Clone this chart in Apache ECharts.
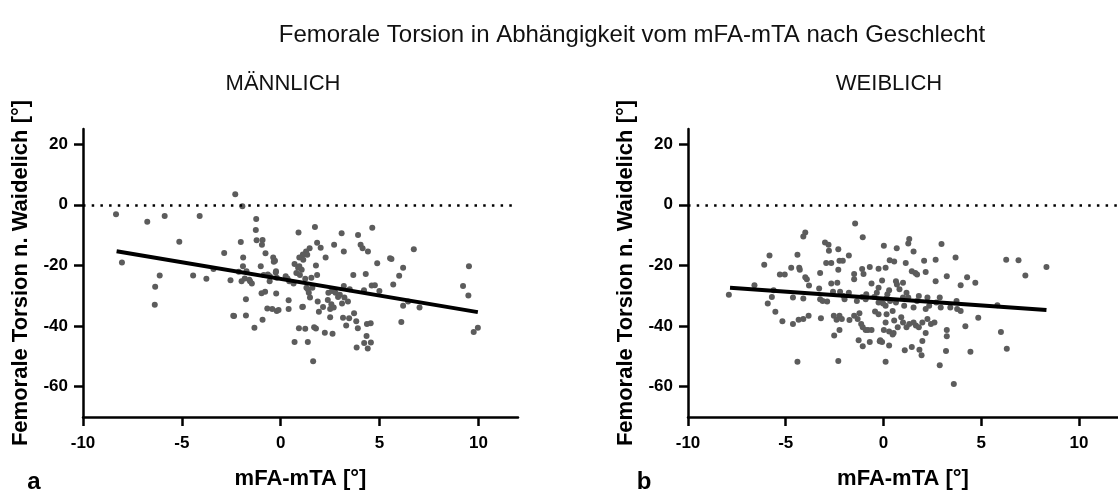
<!DOCTYPE html>
<html>
<head>
<meta charset="utf-8">
<script src="https://cdn.jsdelivr.net/npm/echarts@6/dist/echarts.min.js"></script>
<style>
html,body{margin:0;padding:0;background:#fff;}
#chart{width:1118px;height:495px;}
</style>
</head>
<body>
<div id="chart"></div>
<script>
// ---- Data ----
const xTicks = [-10, -5, 0, 5, 10];
const yTicks = [-60, -40, -20, 0, 20];

const maleX = [-2.3,-1.94,-8.33,-6.75,-5.87,-4.1,-5.13,-1.24,-1.26,-2.02,-1.22,-0.92,-0.95,-0.77,-2.86,-1.9,-0.38,0.9,1.73,1.84,2.02,1.46,1.28,1.12,0.94,2.27,2.7,3.08,3.19,3.91,4.04,4.14,4.41,4.63,5.53,6.73,
-8.03,-6.12,-6.35,-6.37,-4.43,-3.76,-3.4,-2.54,-2.36,-1.91,-2.12,-1.82,-1.73,-1.76,-1.76,-1.55,-1.46,-1.33,-1.01,-0.92,-0.86,-0.79,-0.65,-0.68,-0.56,-0.43,-0.29,-0.25,-0.2,-0.23,-0.2,-0.11,
0.25,0.34,0.4,0.4,0.43,0.7,0.79,0.97,0.94,1.06,1.12,1.24,1.3,1.37,1.42,1.48,1.55,1.6,1.78,1.84,1.87,1.93,1.69,1.78,1.24,0.92,0.7,1.37,1.64,
2.14,2.38,2.41,2.5,2.56,2.59,2.68,2.77,2.5,2.62,2.23,2.9,2.99,3.1,3.19,3.22,3.15,3.31,3.4,3.46,3.49,3.67,3.71,3.82,3.84,3.9,4.21,4.3,4.36,4.55,4.34,4.22,4.4,4.56,4.6,4.88,4.99,4.76,5.6,5.69,5.99,6.19,6.19,6.1,6.44,7.02,9.22,9.52,9.49,9.97,9.76,
-0.97,-0.35,-0.24,-0.55,1.34,1.14,0.88,-2.4,-1.98,0.65,1.09,-1.59];
const maleY = [3.5,-0.5,-3.1,-5.6,-3.7,-3.7,-12.2,-4.7,-8.3,-12.3,-11.7,-11.6,-13.2,-16.0,-15.9,-17.4,-17.4,-9.1,-7.3,-12.5,-14.2,-14.3,-15.4,-16.4,-17.4,-17.4,-13.2,-9.4,-15.4,-10.0,-13.2,-14.3,-15.4,-7.6,-17.6,-14.7,
-19.0,-23.3,-27.0,-33.0,-23.3,-24.4,-21.2,-24.9,-36.7,-20.3,-22.1,-24.3,-21.9,-31.2,-36.5,-25.2,-26.0,-40.6,-20.3,-37.9,-23.2,-28.7,-23.0,-34.2,-25.2,-34.4,-18.5,-22.3,-24.1,-29.3,-35.0,-34.7,
-23.6,-24.3,-31.5,-34.4,-25.2,-19.5,-22.5,-23.2,-20.3,-21.4,-33.6,-24.4,-27.4,-27.9,-29.0,-30.6,-24.1,-27.4,-20.0,-23.2,-31.9,-35.3,-40.4,-40.8,-40.9,-40.7,-45.3,-45.3,-51.6,
-33.7,-31.4,-29.0,-34.4,-32.8,-28.4,-33.9,-29.0,-37.1,-42.5,-42.2,-30.4,-29.7,-32.6,-26.8,-30.6,-37.3,-39.8,-31.9,-37.4,-27.9,-23.2,-35.8,-38.4,-47.1,-40.7,-28.2,-22.8,-39.3,-39.1,-43.3,-45.6,-47.4,-45.4,-26.6,-19.3,-28.4,-26.5,-17.9,-26.3,-23.4,-20.8,-33.3,-38.7,-31.9,-33.9,-26.8,-20.3,-29.9,-40.6,-42.0,
-29.2,-18.8,-21.9,-23.6,-16.5,-18.1,-20.8,-36.6,-25.2,-26.0,-33.7,-24.7];

const femaleX = [-1.45,-4.0,-4.1,-1.06,-2.99,-2.81,-2.31,-2.79,0.02,0.68,1.32,1.27,1.54,2.97,-5.83,-4.4,-1.77,3.69,
6.28,6.91,8.34,7.26,-6.1,-5.3,-5.05,-4.72,-4.31,-4.28,-4.0,-3.92,-3.81,-3.24,-3.29,-2.93,-2.67,-2.67,-2.31,-2.25,-2.08,-1.5,-1.5,-1.09,-1.02,-0.7,-0.61,-0.25,-0.07,-0.25,0.11,0.32,0.55,0.64,1.0,1.14,1.45,1.63,1.72,2.08,2.16,2.67,2.67,3.24,3.95,4.28,4.7,
-7.91,-6.6,-5.62,-5.71,-5.92,-5.53,-4.63,-4.1,-3.83,-4.1,-4.63,-5.17,-3.2,-3.24,-3.11,-2.88,-2.58,-2.22,-2.04,-1.99,-1.77,-1.36,-1.09,-0.91,-0.88,-0.47,-0.34,-0.25,-0.11,-0.02,0.11,0.2,0.16,0.29,0.34,0.47,0.64,0.82,1.0,1.06,1.18,1.27,1.54,1.72,1.81,2.25,2.34,2.7,2.88,2.93,3.42,3.74,3.77,3.95,5.83,
-2.54,-2.25,-2.13,-1.74,-2.52,-2.25,-2.31,-4.4,-1.5,-1.32,-1.23,-1.14,-1.06,-0.91,-1.27,-1.06,-0.79,-0.61,-0.7,-0.43,-0.25,-0.16,-0.07,0.02,0.11,0.16,0.11,0.29,0.29,0.52,0.55,0.47,0.73,0.91,1.0,1.09,1.18,1.32,1.45,1.54,1.66,1.81,1.99,2.16,2.25,1.99,1.84,1.95,2.16,2.43,2.61,2.88,3.24,3.24,3.2,3.6,4.19,4.45,4.85,6.01,6.31,
-4.34,-2.4,-2.36,0.69,-0.19];
const femaleY = [-6.2,-9.1,-10.5,-10.7,-12.4,-13.2,-14.7,-15.2,-13.5,-14.3,-11.3,-12.8,-15.4,-12.9,-16.7,-16.5,-16.7,-17.4,
-18.1,-18.3,-20.5,-23.3,-19.8,-23.0,-23.0,-20.8,-20.8,-21.4,-23.9,-24.6,-26.6,-22.5,-27.6,-19.2,-19.2,-26.0,-21.4,-18.5,-18.5,-22.8,-24.6,-21.2,-22.8,-20.5,-26.0,-21.1,-25.0,-27.4,-20.8,-18.3,-18.7,-25.2,-25.7,-19.2,-21.9,-22.5,-23.0,-18.5,-22.2,-18.1,-25.2,-23.6,-26.5,-23.9,-25.7,
-29.7,-26.5,-28.2,-30.4,-32.6,-35.3,-30.6,-30.9,-36.6,-37.7,-39.3,-38.4,-37.4,-31.2,-31.7,-31.9,-28.7,-28.7,-30.1,-31.2,-29.0,-31.7,-30.4,-31.2,-29.5,-30.4,-29.0,-32.2,-31.5,-32.6,-33.3,-29.5,-30.8,-28.2,-31.7,-35.0,-32.2,-27.9,-30.6,-33.3,-29.0,-30.6,-33.9,-31.7,-30.1,-30.6,-33.3,-32.2,-30.6,-33.9,-33.9,-31.7,-34.4,-35.0,-33.1,
-36.6,-36.6,-37.7,-38.0,-43.1,-41.3,-51.5,-51.8,-36.6,-37.7,-35.8,-39.3,-40.4,-41.3,-44.7,-46.7,-41.3,-41.3,-45.3,-35.2,-36.1,-44.7,-45.3,-41.3,-38.8,-36.1,-51.8,-41.8,-46.4,-42.3,-38.2,-42.8,-40.4,-37.1,-38.8,-48.0,-40.4,-39.3,-46.9,-38.8,-39.8,-40.4,-38.8,-34.4,-37.7,-44.9,-47.8,-49.6,-42.3,-39.3,-38.8,-52.9,-41.3,-43.4,-48.2,-59.1,-40.1,-48.5,-37.3,-42.0,-47.5,
-37.9,-37.9,-25.7,-26.3,-45.0];

// regression line end points
const maleFitX = [-8.3, 9.97];
const maleFitY = [-15.3, -35.4];
const femaleFitX = [-7.85, 8.34];
const femaleFitY = [-27.4, -34.7];

const zip = (a, b) => a.map((v, i) => [v, b[i]]);

const FONT = '"Liberation Sans", Arial, Helvetica, sans-serif';

function xAxisOpt(idx) {
  return {
    gridIndex: idx, type: 'value', min: -10, max: 12,
    name: 'mFA-mTA [°]', nameLocation: 'middle', nameGap: 51,
    nameTextStyle: { fontFamily: FONT, fontWeight: 'bold', fontSize: 22, color: '#000' },
    axisLine: { onZero: false, lineStyle: { color: '#000', width: 2.5 } },
    axisTick: { show: true, length: 9, lineStyle: { color: '#000', width: 2.5 }, customValues: xTicks },
    axisLabel: { customValues: xTicks, margin: 18, fontFamily: FONT, fontWeight: 'bold', fontSize: 17, color: '#000' },
    splitLine: { show: false }
  };
}
function yAxisOpt(idx) {
  return {
    gridIndex: idx, type: 'value', min: -70, max: 25,
    name: 'Femorale Torsion n. Waidelich [°]', nameLocation: 'middle', nameGap: 51,
    nameTextStyle: { fontFamily: FONT, fontWeight: 'bold', fontSize: 22, color: '#000' },
    axisLine: { onZero: false, lineStyle: { color: '#000', width: 2.5 } },
    axisTick: { show: true, length: 9, lineStyle: { color: '#000', width: 2.5 }, customValues: yTicks },
    axisLabel: { customValues: yTicks, margin: 15, fontFamily: FONT, fontWeight: 'bold', fontSize: 17, color: '#000' },
    splitLine: { show: false }
  };
}
function scatter(idx, x, y) {
  return {
    type: 'scatter', xAxisIndex: idx, yAxisIndex: idx,
    data: zip(x, y), symbol: 'circle', symbolSize: 6,
    itemStyle: { color: '#5c5c5c', opacity: 1 },
    z: 3,
    markLine: {
      silent: true, symbol: 'none', animation: false,
      label: { show: false },
      lineStyle: { color: '#000', type: [2.5, 6.2], width: 2.5 },
      data: [{ yAxis: 0 }]
    }
  };
}
function fit(idx, x, y) {
  return {
    type: 'line', xAxisIndex: idx, yAxisIndex: idx,
    data: zip(x, y), symbol: 'none', z: 4,
    lineStyle: { color: '#000', width: 4 }
  };
}

const chart = echarts.init(document.getElementById('chart'), null, { renderer: 'canvas' });
chart.setOption({
  animation: false,
  backgroundColor: '#fff',
  grid: [
    { left: 83, right: 600, top: 129, bottom: 74 },
    { left: 688, right: -8, top: 129, bottom: 74 }
  ],
  xAxis: [xAxisOpt(0), xAxisOpt(1)],
  yAxis: [yAxisOpt(0), yAxisOpt(1)],
  series: [
    scatter(0, maleX, maleY), fit(0, maleFitX, maleFitY),
    scatter(1, femaleX, femaleY), fit(1, femaleFitX, femaleFitY)
  ],
  graphic: [
    { type: 'text', x: 632, y: 35, style: { text: 'Femorale Torsion in Abhängigkeit vom mFA-mTA nach Geschlecht', font: '24px ' + FONT, fill: '#111', align: 'center', verticalAlign: 'middle', textAlign: 'center', textVerticalAlign: 'middle' } },
    { type: 'text', x: 283, y: 84, style: { text: 'MÄNNLICH', font: '22px ' + FONT, fill: '#111', align: 'center', verticalAlign: 'middle', textAlign: 'center', textVerticalAlign: 'middle' } },
    { type: 'text', x: 889, y: 84, style: { text: 'WEIBLICH', font: '22px ' + FONT, fill: '#111', align: 'center', verticalAlign: 'middle', textAlign: 'center', textVerticalAlign: 'middle' } },
    { type: 'text', x: 34, y: 482, style: { text: 'a', font: 'bold 24px ' + FONT, fill: '#000', align: 'center', verticalAlign: 'middle', textAlign: 'center', textVerticalAlign: 'middle' } },
    { type: 'text', x: 644, y: 482, style: { text: 'b', font: 'bold 24px ' + FONT, fill: '#000', align: 'center', verticalAlign: 'middle', textAlign: 'center', textVerticalAlign: 'middle' } }
  ]
});
</script>
</body>
</html>
